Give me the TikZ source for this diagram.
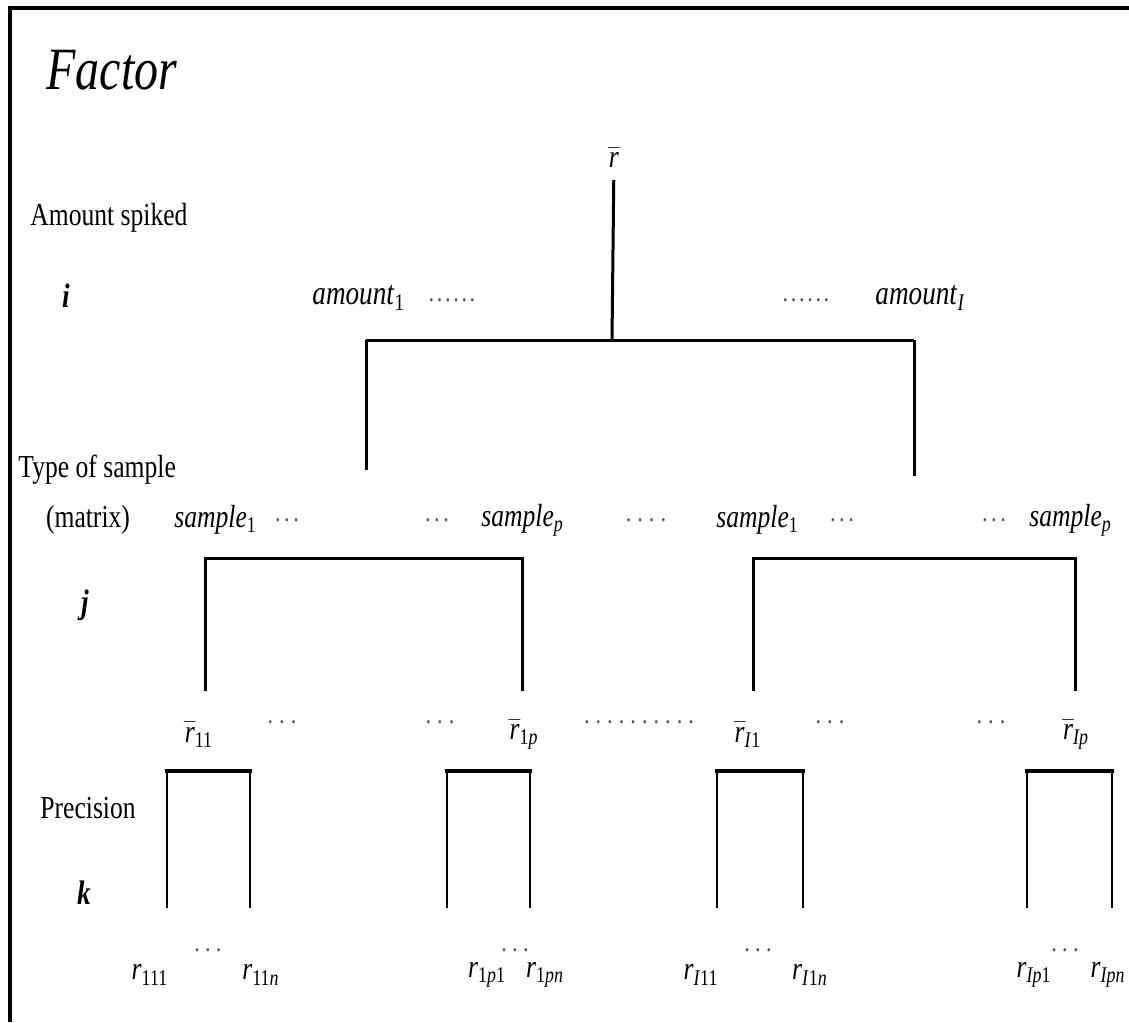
\documentclass[tikz,border=0pt]{standalone}
\usepackage{fontspec}
\setmainfont{Liberation Serif}[FakeStretch=0.8]
\usetikzlibrary{positioning}

\newcommand{\ivar}[2]{\textit{#1}\textsubscript{#2}}
\newcommand{\rmean}[1]{$\bar{\mbox{\textit{r}}}$\textsubscript{#1}}
% spaced row of dots: [gap]{count}
\newcommand{\dotrow}[2][1.5pt]{.\foreach \d in {2,...,#2}{\hspace{#1}.}}

\tikzset{
  title/.style={font=\fontsize{30}{32}\selectfont\itshape, inner sep=0pt, anchor=west},
  factor/.style={font=\fontsize{16}{18}\selectfont, inner sep=0pt, anchor=west},
  idx/.style={font=\fontsize{17}{19}\selectfont\bfseries\itshape, inner sep=0pt},
  lbl/.style={font=\fontsize{17}{19}\selectfont, inner sep=0pt},
  smp/.style={font=\fontsize{16}{18}\selectfont, inner sep=0pt, anchor=west},
  mean/.style={font=\fontsize{16}{18}\selectfont, inner sep=0pt},
  leaf/.style={font=\fontsize{16}{18}\selectfont, inner sep=0pt},
  dots/.style={font=\fontsize{14}{16}\selectfont, inner sep=0pt, text=black!65},
  tree/.style={line width=1.5pt},
  leg/.style={line width=1.1pt},
  bar/.style={line width=1.8pt},
}

\begin{document}
\begin{tikzpicture}[x=0.5pt,y=-0.5pt]
  \useasboundingbox (0,0) rectangle (1129,1022);
  \draw[line width=2pt] (10,1022) -- (10,8) -- (1129,8);

  % factor column
  \node[title] (ttl) at (46,70) {Factor};
  \node[factor] (amt) at (30,218) {Amount spiked};
  \node[idx] (ii) at (66,296) {i};
  \node[factor] (typ) at (18,470) {Type of sample};
  \node[factor, anchor=center] (mtx) at (88,520) {(matrix)};
  \node[idx] (jj) at (85,605) {j};
  \node[factor] (prc) at (40,808) {Precision};
  \node[idx] (kk) at (84,893) {k};

  % grand mean
  \node[mean] (top) at (614,158) {$\bar{\mbox{\textit{r}}}$};

  % amounts
  \node[lbl, anchor=west] (am1) at (312,298) {\ivar{amount}{1}};
  \node[dots] (ad1) at (452,300) {\dotrow[1.3pt]{6}};
  \node[dots] (ad2) at (806,300) {\dotrow[1.3pt]{6}};
  \node[lbl, anchor=west] (amI) at (875,298) {\ivar{amount}{\textit{I}}};

  % samples
  \node[smp] (sa1) at (174,520) {\ivar{sample}{1}};
  \node[dots] (sd1) at (287,520) {\dotrow[1.8pt]{3}};
  \node[dots] (sd2) at (437,520) {\dotrow[1.8pt]{3}};
  \node[smp] (sap) at (481,520) {\ivar{sample}{\textit{p}}};
  \node[dots] (sd3) at (646,520) {\dotrow[3pt]{4}};
  \node[smp] (sb1) at (716,520) {\ivar{sample}{1}};
  \node[dots] (sd4) at (842,520) {\dotrow[1.8pt]{3}};
  \node[dots] (sd5) at (994,520) {\dotrow[1.8pt]{3}};
  \node[smp] (sbp) at (1029,520) {\ivar{sample}{\textit{p}}};

  % sample means
  \node[mean] (m11) at (199,735) {\rmean{11}};
  \node[dots] (md1) at (282,722) {\dotrow[3pt]{3}};
  \node[dots] (md2) at (440,722) {\dotrow[3pt]{3}};
  \node[mean] (m1p) at (524,735) {\rmean{1\textit{p}}};
  \node[dots] (md3) at (639,722) {\dotrow[3pt]{10}};
  \node[mean] (mI1) at (748,735) {\rmean{\textit{I}1}};
  \node[dots] (md4) at (830,722) {\dotrow[3pt]{3}};
  \node[dots] (md5) at (991,722) {\dotrow[3pt]{3}};
  \node[mean] (mIp) at (1076,735) {\rmean{\textit{Ip}}};

  % replicates
  \node[leaf] (r111) at (150,975) {\ivar{r}{111}};
  \node[dots] (rd1) at (208,950) {\dotrow[2.6pt]{3}};
  \node[leaf] (r11n) at (261,975) {\ivar{r}{11\textit{n}}};
  \node[leaf] (r1p1) at (487,975) {\ivar{r}{1\textit{p}1}};
  \node[dots] (rd2) at (515,950) {\dotrow[2.6pt]{3}};
  \node[leaf] (r1pn) at (545,975) {\ivar{r}{1\textit{pn}}};
  \node[leaf] (rI11) at (701,975) {\ivar{r}{\textit{I}11}};
  \node[dots] (rd3) at (758,950) {\dotrow[2.6pt]{3}};
  \node[leaf] (rI1n) at (810,975) {\ivar{r}{\textit{I}1\textit{n}}};
  \node[leaf] (rIp1) at (1034,975) {\ivar{r}{\textit{Ip}1}};
  \node[dots] (rd4) at (1065,950) {\dotrow[2.6pt]{3}};
  \node[leaf] (rIpn) at (1108,975) {\ivar{r}{\textit{Ipn}}};

  % amount level
  \coordinate (a0) at (612,340);
  \coordinate (aL) at (366,340);
  \coordinate (aR) at (914,340);
  \coordinate (bL) at (366,470);
  \coordinate (bR) at (914,476);
  \draw[tree, shorten <=6pt] (top) -- (a0);
  \draw[tree] (aL) -- (aR);
  \draw[tree] (aL) -- (bL);
  \draw[tree] (aR) -- (bR);

  % sample level
  \foreach \xa/\xb/\g in {205/522/L, 753/1075/R} {
    \coordinate (c\g1) at (\xa,558);
    \coordinate (c\g2) at (\xb,558);
    \coordinate (d\g1) at (\xa,691);
    \coordinate (d\g2) at (\xb,691);
    \draw[tree] (d\g1) -- (c\g1) -- (c\g2) -- (d\g2);
  }

  % precision level
  \foreach \xa/\xb [count=\n] in {167/250, 447/530, 717/803, 1027/1112} {
    \coordinate (p\n a) at (\xa,771);
    \coordinate (p\n b) at (\xb,771);
    \coordinate (q\n a) at (\xa,908);
    \coordinate (q\n b) at (\xb,908);
    \draw[leg] (q\n a) -- (p\n a);
    \draw[leg] (q\n b) -- (p\n b);
    \draw[bar, line cap=rect] (p\n a) -- (p\n b);
  }
\end{tikzpicture}
\end{document}
